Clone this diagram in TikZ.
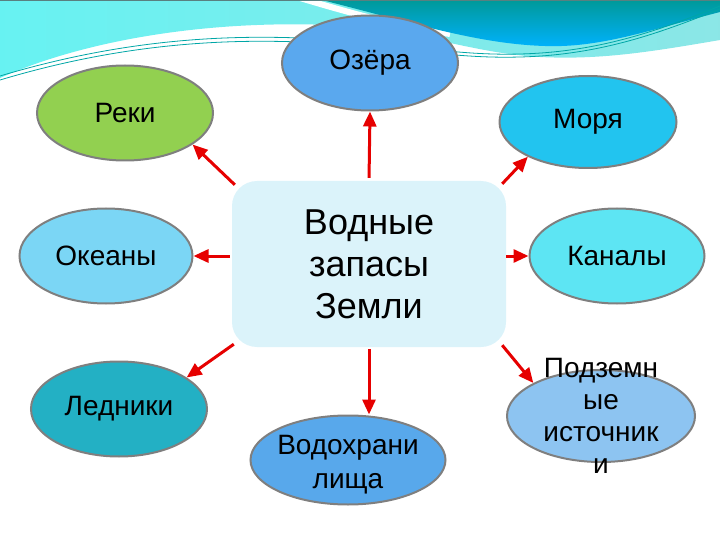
\documentclass[tikz,border=0pt]{standalone}
\usepackage{fontspec}
\setmainfont{Liberation Sans}
\usetikzlibrary{positioning,shapes,arrows.meta}
\definecolor{rekigreen}{HTML}{92D050}
\definecolor{ozerablue}{HTML}{5AA8EE}
\definecolor{moryacyan}{HTML}{22C4EF}
\definecolor{okeanycyan}{HTML}{7BD6F5}
\definecolor{kanalycyan}{HTML}{5DE5F3}
\definecolor{lednikiteal}{HTML}{23B0C4}
\definecolor{vodohrblue}{HTML}{58A8EB}
\definecolor{podzemblue}{HTML}{8DC4F1}
\definecolor{boxcyan}{HTML}{DBF3FA}
\definecolor{arrowred}{HTML}{E60000}
\definecolor{edgegray}{HTML}{7F7F7F}
\tikzstyle{WaterNode}=[ellipse, draw=edgegray, line width=2pt, minimum width=176pt, minimum height=95pt, inner sep=0pt, align=center, font=\fontsize{28}{33}\selectfont]
\tikzstyle{MainNode}=[rectangle, rounded corners=25pt, fill=boxcyan, minimum width=274pt, minimum height=166pt, align=center, font=\fontsize{36}{42}\selectfont]
\tikzstyle{RedArrow}=[-{Triangle[length=15pt,width=13pt]}, line width=3pt, draw=arrowred, fill=arrowred]

\begin{document}
\begin{tikzpicture}[x=1pt, y=-1pt]
      \useasboundingbox (0,0) rectangle (720,540);
      % waves at the top
      \shade[left color=cyan!55!white!90!teal, right color=gray!35!cyan!55!white] (0,0) -- (720,0) -- (720,40) .. controls (650,52) and (600,60) .. (540,57) .. controls (470,53) and (420,30) .. (330,25) .. controls (200,20) and (80,42) .. (0,78) -- cycle;
      \draw[white, line width=6pt] (300,-2) .. controls (360,16) and (400,26) .. (450,34);
      \shade[top color=teal!80!cyan, bottom color=cyan!70!blue] (322,0) -- (720,0) -- (720,12) .. controls (650,30) and (600,48) .. (545,46) .. controls (480,44) and (420,25) .. (322,0) -- cycle;
      \draw[teal!70!cyan, line width=0.8pt] (0,76) .. controls (120,40) and (220,35) .. (300,38) .. controls (400,42) and (450,56) .. (520,54) .. controls (600,52) and (660,30) .. (720,6);
      \draw[teal!70!cyan, line width=0.8pt] (0,80) .. controls (120,44) and (220,39) .. (300,42) .. controls (400,46) and (450,59) .. (520,57) .. controls (600,55) and (660,33) .. (720,9);
      \draw[gray!70!teal, line width=1.2pt] (0,0.6) -- (720,0.6);

      \node[MainNode] (box) at (369,264) {Водные\\запасы\\Земли};
      \node[WaterNode, fill=ozerablue] (ozera) at (370,63) {Озёра};
      \node[WaterNode, fill=rekigreen] (reki) at (125,113) {Реки};
      \node[WaterNode, fill=moryacyan, minimum width=177pt, minimum height=92pt] (morya) at (588,122) {Моря};
      \node[WaterNode, fill=okeanycyan, minimum width=173pt] (okeany) at (106,256) {Океаны};
      \node[WaterNode, fill=kanalycyan, minimum width=175pt] (kanaly) at (617,256) {Каналы};
      \node[WaterNode, fill=lednikiteal] (ledniki) at (119,409) {Ледники};
      \node[WaterNode, fill=vodohrblue, minimum width=195pt, minimum height=89pt,
            label={[align=center, yshift=-5pt, font=\fontsize{28}{34}\selectfont]center:Водохрани\\лища}] (vodohr) at (348,460) {};
      \node[WaterNode, fill=podzemblue, minimum width=188pt, minimum height=92pt,
            label={[align=center, font=\fontsize{28}{32}\selectfont]center:Подземн\\ые\\источник\\и}] (podzem) at (601,416) {};

      \draw[RedArrow, shorten <=3pt] (box.north) -- (ozera.south);
      \draw[RedArrow] ([xshift=3pt,yshift=-4pt]box.north west) -- (reki.-25);
      \draw[RedArrow] ([xshift=-4pt,yshift=-3pt]box.north east) -- (morya.210);
      \draw[RedArrow, shorten <=2pt] (box.west |- okeany.east) -- (okeany.east);
      \draw[RedArrow] (box.east |- kanaly.west) -- (kanaly.west);
      \draw[RedArrow] ([xshift=2pt,yshift=3pt]box.south west) -- (ledniki.25);
      \draw[RedArrow, shorten <=2pt] (box.south) -- (box.south |- vodohr.north);
      \draw[RedArrow] ([xshift=-4pt,yshift=2pt]box.south east) -- (podzem.154);
    \end{tikzpicture}
\end{document}
